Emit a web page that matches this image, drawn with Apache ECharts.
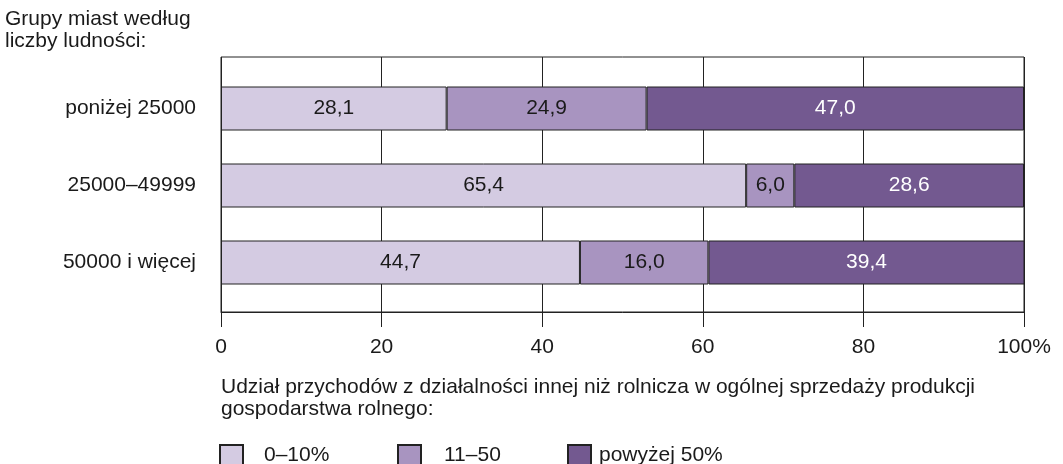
<!DOCTYPE html>
<html>
<head>
<meta charset="utf-8">
<script src="https://cdn.jsdelivr.net/npm/echarts@6/dist/echarts.min.js"></script>
<style>
  html, body { margin: 0; padding: 0; background: #fff; }
  #chart { width: 1063px; height: 464px; }
</style>
</head>
<body>
<div id="chart"></div>
<script>
const categories = ["poniżej 25000", "25000–49999", "50000 i więcej"];
const low = [28.1, 65.4, 44.7];
const mid = [24.9, 6.0, 16.0];
const high = [47.0, 28.6, 39.4];
const seriesNames = ["0–10%", "11–50", "powyżej 50%"];
const xTicks = [0, 20, 40, 60, 80, 100];

const font = "Liberation Sans, Arial, sans-serif";
const ink = "#1a1a1a";
const colors = ["#d4cbe2", "#a894c0", "#735990"];
const fs = 21;

function fmt(v) {
  return v.toFixed(1).replace(".", ",");
}

function makeSeries(name, data, color, labelColor) {
  return {
    name: name,
    type: "bar",
    stack: "all",
    data: data,
    barWidth: 44,
    z: 3,
    itemStyle: { color: color, borderColor: "#222", borderWidth: 1 },
    label: {
      show: true,
      position: "inside",
      color: labelColor,
      fontFamily: font,
      fontSize: fs,
      formatter: (p) => fmt(p.value),
    },
  };
}

const chart = echarts.init(document.getElementById("chart"));
chart.setOption({
  animation: false,
  textStyle: { fontFamily: font, color: ink },
  title: [
    {
      text: "Grupy miast według\nliczby ludności:",
      left: 5,
      top: 8,
      padding: 0,
      textStyle: { fontSize: fs, lineHeight: 22, fontWeight: "normal", color: ink, fontFamily: font },
    },
    {
      text: "Udział przychodów z działalności innej niż rolnicza w ogólnej sprzedaży produkcji\ngospodarstwa rolnego:",
      left: 221,
      top: 376,
      padding: 0,
      textStyle: { fontSize: fs, lineHeight: 22, fontWeight: "normal", color: ink, fontFamily: font },
    },
  ],
  legend: [
    { data: [seriesNames[0]], left: 219, pad: 16 },
    { data: [seriesNames[1]], left: 397, pad: 18 },
    { data: [seriesNames[2]], left: 567, pad: 3 },
  ].map((l) => ({
    data: l.data,
    left: l.left,
    top: 444,
    padding: 0,
    icon: "rect",
    itemWidth: 23,
    itemHeight: 20,
    selectedMode: false,
    textStyle: { fontSize: fs, color: ink, fontFamily: font, padding: [0, 0, 0, l.pad] },
  })),
  grid: [
    // frame, ticks and vertical lines
    { left: 221, right: 39, top: 57, bottom: 152, show: true, borderColor: "#222", borderWidth: 1 },
    // bars
    { left: 221, right: 39, top: 70, bottom: 163 },
  ],
  xAxis: [
    {
      gridIndex: 0,
      type: "value",
      min: xTicks[0],
      max: xTicks[xTicks.length - 1],
      interval: 20,
      axisLine: { show: true, lineStyle: { color: "#222" } },
      axisTick: { show: true, length: 15, lineStyle: { color: "#222" } },
      axisLabel: {
        fontSize: fs,
        color: ink,
        margin: 25,
        fontFamily: font,
        formatter: (v) => (v === 100 ? "100%" : String(v)),
      },
      splitLine: { show: true, lineStyle: { color: "#222", width: 1 } },
    },
    {
      gridIndex: 1,
      type: "value",
      min: xTicks[0],
      max: xTicks[xTicks.length - 1],
      show: false,
    },
  ],
  yAxis: [
    { gridIndex: 0, type: "value", show: false },
    {
      gridIndex: 1,
      type: "category",
      data: categories,
      inverse: true,
      axisLine: { show: false },
      axisTick: { show: false },
      splitLine: { show: false },
      axisLabel: { fontSize: fs, color: ink, margin: 25, fontFamily: font },
    },
  ],
  series: [
    makeSeries(seriesNames[0], low, colors[0], ink),
    makeSeries(seriesNames[1], mid, colors[1], ink),
    makeSeries(seriesNames[2], high, colors[2], "#ffffff"),
  ].map((s) => Object.assign(s, { xAxisIndex: 1, yAxisIndex: 1 })),
});
</script>
</body>
</html>
